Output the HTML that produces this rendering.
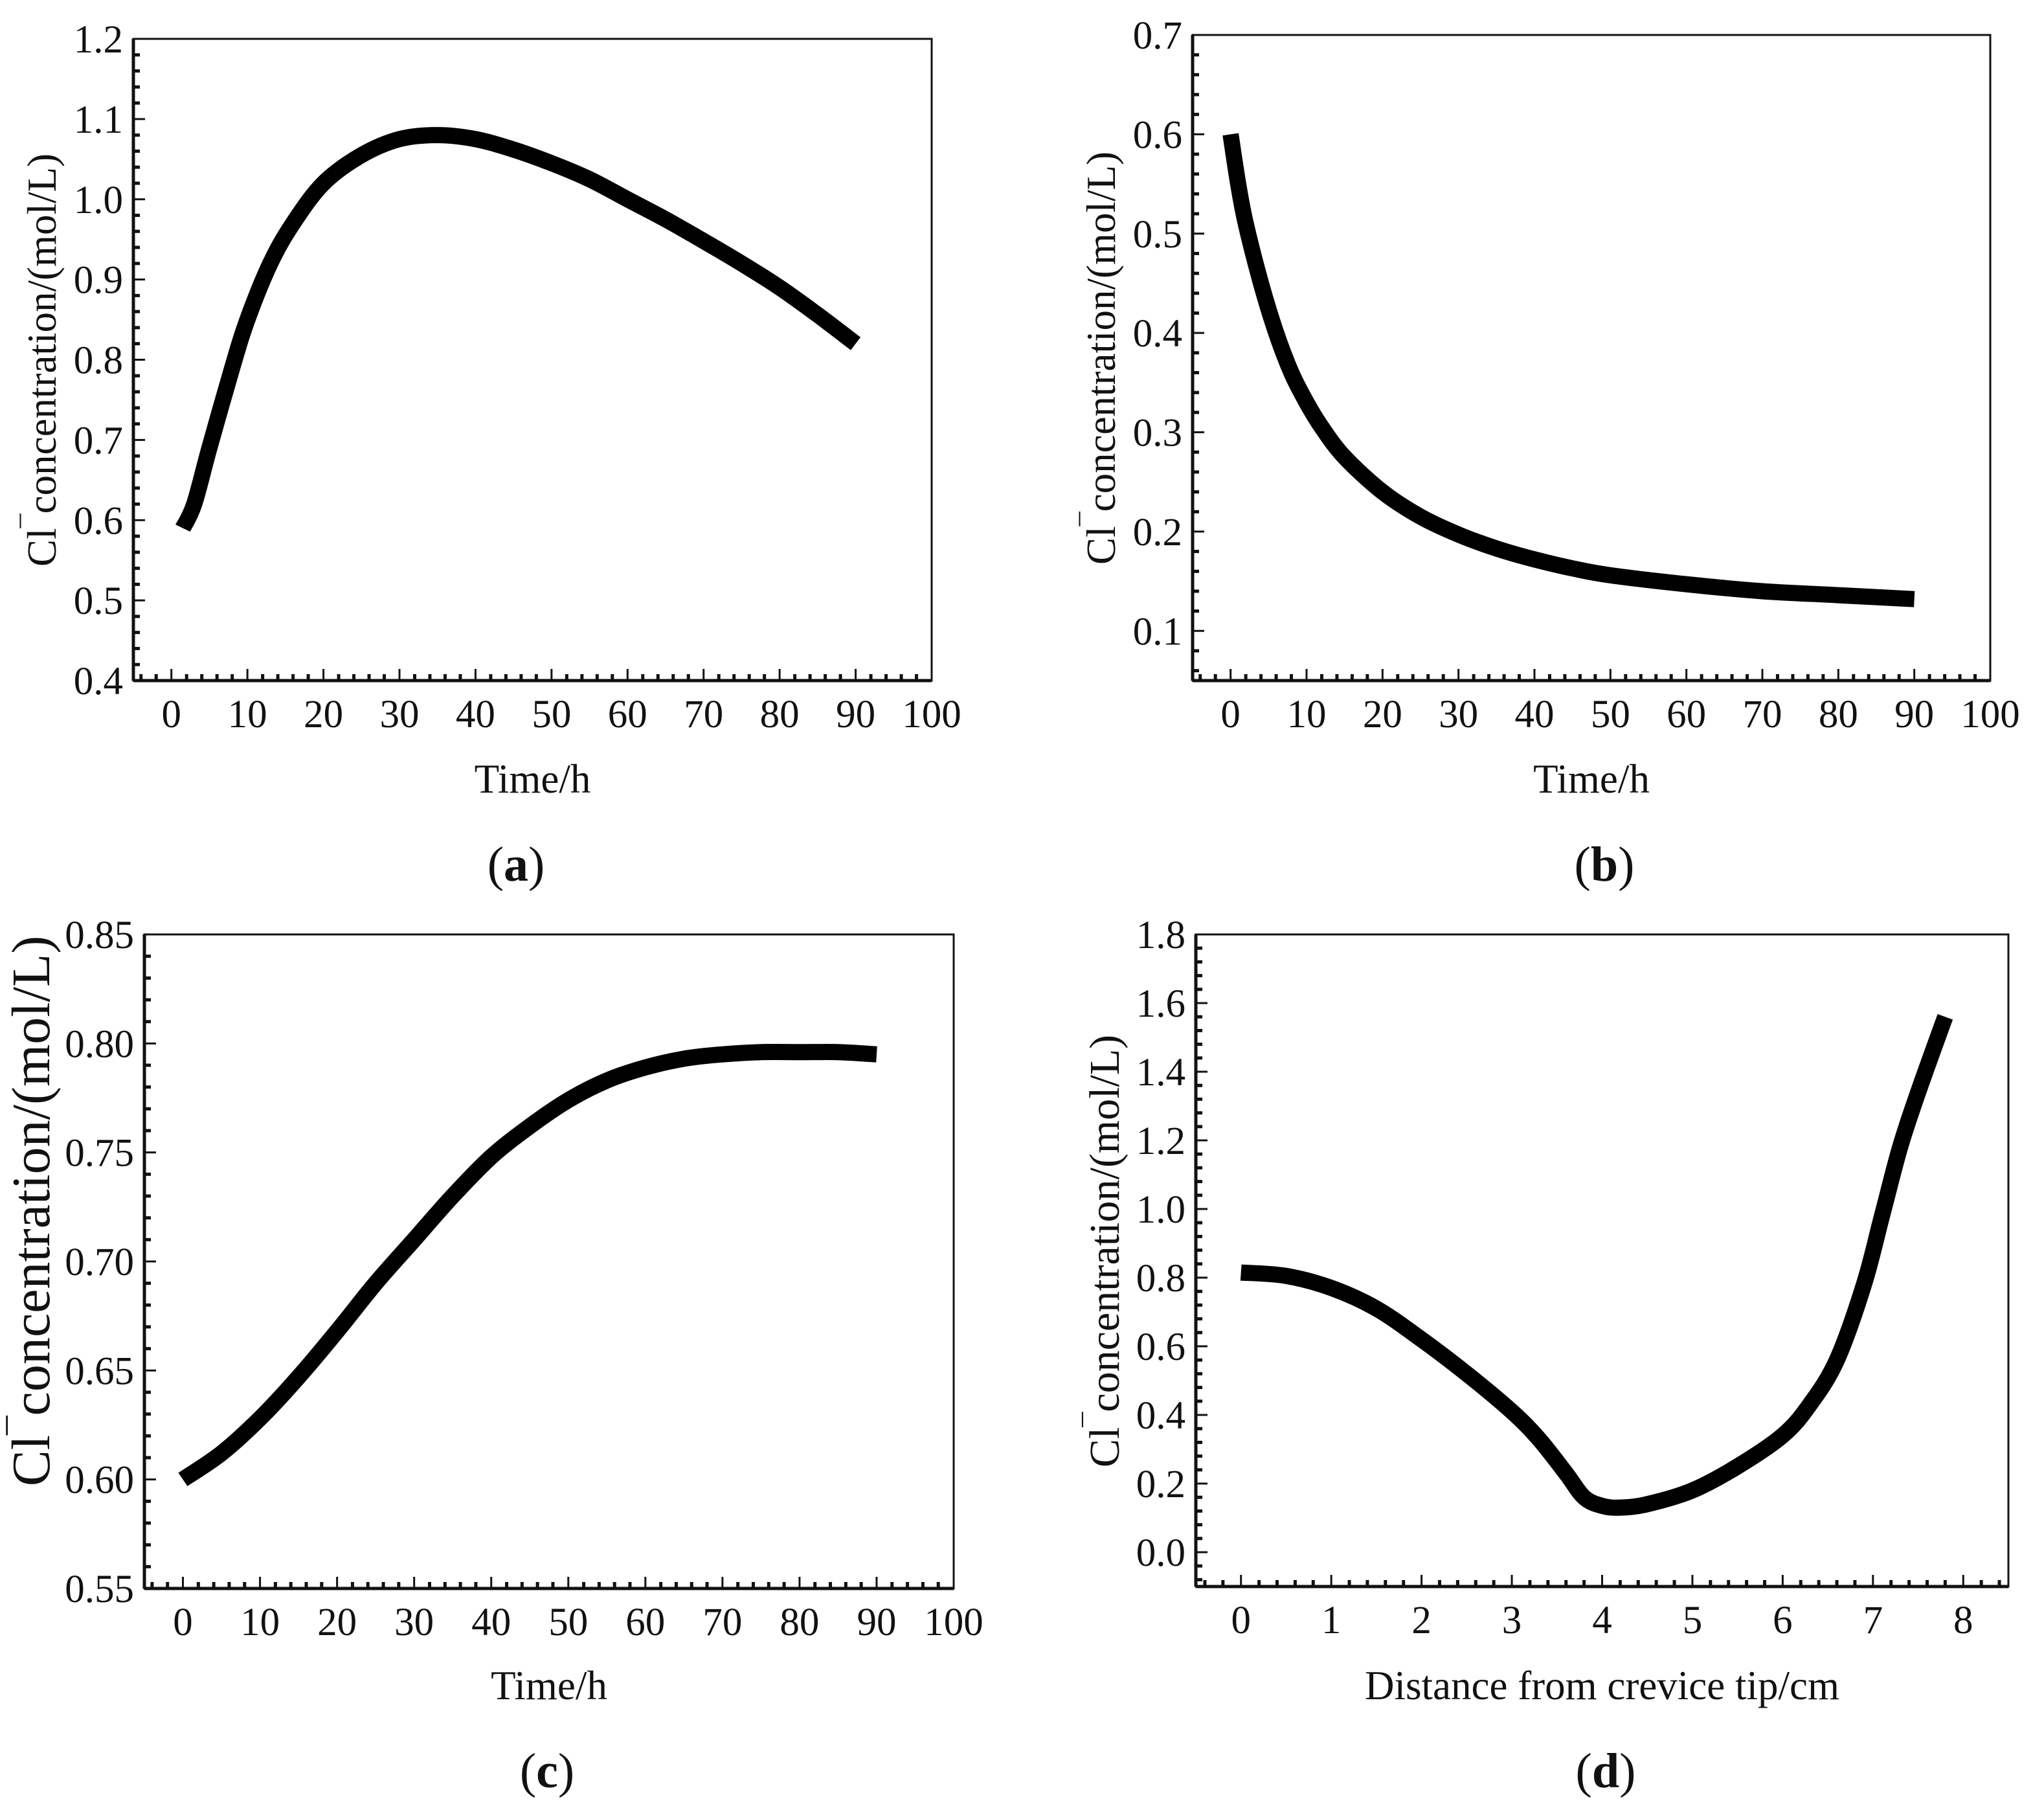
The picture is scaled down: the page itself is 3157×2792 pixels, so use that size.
<!DOCTYPE html>
<html><head><meta charset="utf-8"><style>
html,body{margin:0;padding:0;background:#fff;}
svg{display:block;}
text{font-family:"Liberation Serif",serif;fill:#111;}
</style></head><body>
<svg id="fig" width="3157" height="2792" viewBox="0 0 3157 2792" xmlns="http://www.w3.org/2000/svg"></svg>
<script>
const aTime=[1.5,3,5,8,10,13,16,20,25,30,35,40,45,50,55,60,65,70,75,80,85,90];
const aConc=[0.59,0.62,0.69,0.79,0.85,0.92,0.97,1.02,1.055,1.075,1.08,1.075,1.062,1.045,1.025,1.0,0.975,0.948,0.92,0.89,0.856,0.82];
const bTime=[0,1,2,4,6,8,10,12,15,20,25,30,35,40,45,50,60,70,80,90];
const bConc=[0.60,0.55,0.51,0.45,0.40,0.36,0.33,0.305,0.275,0.24,0.215,0.197,0.183,0.172,0.163,0.156,0.147,0.14,0.136,0.132];
const cTime=[0,5,10,15,20,25,30,35,40,45,50,55,60,65,70,75,80,85,90];
const cConc=[0.60,0.612,0.628,0.647,0.668,0.69,0.71,0.73,0.748,0.762,0.774,0.783,0.789,0.793,0.795,0.796,0.796,0.796,0.795];
const dDist=[0,0.5,1,1.5,2,2.5,3,3.3,3.6,3.8,4.0,4.2,4.5,5,5.5,6,6.3,6.6,6.9,7.1,7.3,7.5,7.8];
const dConc=[0.815,0.805,0.77,0.71,0.62,0.52,0.41,0.33,0.23,0.16,0.135,0.13,0.14,0.18,0.25,0.34,0.43,0.56,0.78,0.98,1.18,1.34,1.56];
const timeTicks=[0,10,20,30,40,50,60,70,80,90,100];
const aYTicks=["0.4","0.5","0.6","0.7","0.8","0.9","1.0","1.1","1.2"];
const bYTicks=["0.1","0.2","0.3","0.4","0.5","0.6","0.7"];
const cYTicks=["0.55","0.60","0.65","0.70","0.75","0.80","0.85"];
const dYTicks=["0.0","0.2","0.4","0.6","0.8","1.0","1.2","1.4","1.6","1.8"];
const dXTicks=[0,1,2,3,4,5,6,7,8];

const NS="http://www.w3.org/2000/svg";
const svg=document.getElementById('fig');
function mk(tag,attrs,parent){const e=document.createElementNS(NS,tag);for(const k in attrs)e.setAttribute(k,attrs[k]);(parent||svg).appendChild(e);return e;}
function smooth(P){
  let d='M'+P[0][0].toFixed(1)+','+P[0][1].toFixed(1);
  for(let i=0;i<P.length-1;i++){
    const p0=P[Math.max(0,i-1)],p1=P[i],p2=P[i+1],p3=P[Math.min(P.length-1,i+2)];
    const c1=[p1[0]+(p2[0]-p0[0])/6,p1[1]+(p2[1]-p0[1])/6];
    const c2=[p2[0]-(p3[0]-p1[0])/6,p2[1]-(p3[1]-p1[1])/6];
    d+=' C'+c1.map(v=>v.toFixed(1)).join(',')+' '+c2.map(v=>v.toFixed(1)).join(',')+' '+p2.map(v=>v.toFixed(1)).join(',');
  }
  return d;
}

function panel(cfg){
  const g=mk('g',{});
  
  
  const L=cfg.box[0],R=cfg.box[1],T=cfg.box[2],B=cfg.box[3];
  const sx=v=>L+(v-cfg.xd[0])/(cfg.xd[1]-cfg.xd[0])*(R-L);
  const sy=v=>B-(v-cfg.yd[0])/(cfg.yd[1]-cfg.yd[0])*(B-T);
  const fr=mk('rect',{x:L,y:T,width:R-L,height:B-T,fill:'none',stroke:'#111','stroke-width':3},g);
  
  
  mk('line',{x1:L,y1:B,x2:R,y2:B,stroke:'#111','stroke-width':5},g);
  mk('line',{x1:L,y1:T,x2:L,y2:B,stroke:'#111','stroke-width':5},g);
  const xt=cfg.xticks, xstep=xt[1]-xt[0];
  for(let v=xt[0]-xstep;v<=cfg.xd[1]+1e-9;v+=xstep/5){
    if(v<cfg.xd[0]-1e-9)continue;
    const maj=Math.abs((v-xt[0])/xstep-Math.round((v-xt[0])/xstep))<1e-6;
    mk('line',{x1:sx(v),y1:B,x2:sx(v),y2:B-(maj?18:10),stroke:'#111','stroke-width':maj?3:5},g);
  }
  xt.forEach(v=>{const t=mk('text',{x:sx(v),y:B+72,'font-size':cfg.fs,'text-anchor':'middle'},g);t.textContent=String(v);
    });
  const yv=cfg.yticks.map(Number), ystep=yv[1]-yv[0];
  for(let v=yv[0]-ystep;v<=cfg.yd[1]+1e-9;v+=ystep/5){
    if(v<cfg.yd[0]-1e-9)continue;
    const maj=Math.abs((v-yv[0])/ystep-Math.round((v-yv[0])/ystep))<1e-6;
    mk('line',{x1:L,y1:sy(v),x2:L+(maj?18:10),y2:sy(v),stroke:'#111','stroke-width':maj?3:5},g);
  }
  cfg.yticks.forEach(s=>{const t=mk('text',{x:L-16,y:sy(Number(s))+21,'font-size':cfg.fs,'text-anchor':'end'},g);t.textContent=s;
    });
  const P=cfg.xs.map((x,i)=>[sx(x),sy(cfg.ys[i])]);
  const pl=mk('path',{d:smooth(P),fill:'none',stroke:'#000','stroke-width':25,'stroke-linejoin':'round','stroke-linecap':'butt'},g);
  
  
  const xtT=mk('text',{x:(L+R)/2+cfg.xtOff,y:cfg.xtY,'font-size':cfg.tfs,'text-anchor':'middle'},g);
  xtT.textContent=cfg.xtitle;
  
  
  const yt=mk('text',{transform:`translate(${cfg.ytX},${cfg.ytY}) rotate(-90)`,'font-size':cfg.yfs,'text-anchor':'middle'},g);
  yt.innerHTML='Cl<tspan dy="-22" font-size="'+(cfg.yfs*0.7)+'">¯</tspan><tspan dy="22">concentration/(mol/L)</tspan>';
  
  
  const pn=mk('text',{x:cfg.lab[0],y:cfg.lab[1],'font-size':76,'text-anchor':'middle'},g);
  pn.innerHTML='(<tspan font-weight="bold">'+cfg.letter+'</tspan>)';
  
  
}
panel({name:'panel-a',box:[206,1439,60,1051],xd:[-5,100],yd:[0.4,1.2],xticks:timeTicks,yticks:aYTicks,xs:aTime,ys:aConc,fs:61,tfs:63,yfs:63,
  xtitle:'Time/h',xtOff:0,xtY:1224,ytX:86,ytY:556,lab:[797,1360],letter:'a'});
panel({name:'panel-b',box:[1842,3074,54,1051],xd:[-5,100],yd:[0.05,0.7],xticks:timeTicks,yticks:bYTicks,xs:bTime,ys:bConc,fs:61,tfs:63,yfs:63,
  xtitle:'Time/h',xtOff:0,xtY:1224,ytX:1722,ytY:553,lab:[2478,1360],letter:'b'});
panel({name:'panel-c',box:[223,1473,1443,2453],xd:[-5,100],yd:[0.55,0.85],xticks:timeTicks,yticks:cYTicks,xs:cTime,ys:cConc,fs:61,tfs:63,yfs:84,
  xtitle:'Time/h',xtOff:0,xtY:2624,ytX:76,ytY:1870,lab:[845,2760],letter:'c'});
panel({name:'panel-d',box:[1847,3102,1443,2450],xd:[-0.5,8.5],yd:[-0.1,1.8],xticks:dXTicks,yticks:dYTicks,xs:dDist,ys:dConc,fs:61,tfs:63,yfs:66,
  xtitle:'Distance from crevice tip/cm',xtOff:0,xtY:2624,ytX:1728,ytY:1932,lab:[2480,2760],letter:'d'});
</script>
</body></html>
